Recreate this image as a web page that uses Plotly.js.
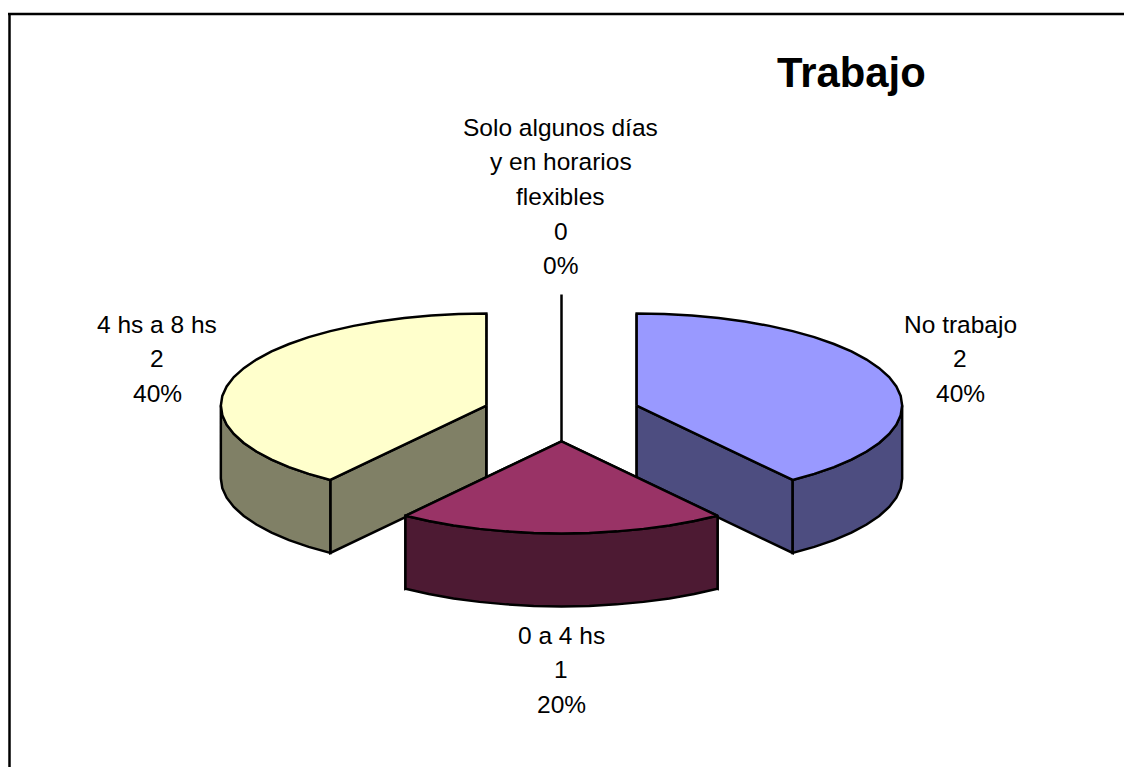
<!DOCTYPE html>
<html>
<head>
<meta charset="utf-8">
<script src="https://cdn.plot.ly/plotly-3.0.1.min.js"></script>
<style>html,body{margin:0;padding:0;background:#fff;overflow:hidden}</style>
</head>
<body>
<div id="chart" style="width:1124px;height:767px"></div>
<script>
// Data
const categories = ["No trabajo", "0 a 4 hs", "4 hs a 8 hs", "Solo algunos días y en horarios flexibles"];
const values = [2, 1, 2, 0];
const labelLines = [["No trabajo"], ["0 a 4 hs"], ["4 hs a 8 hs"], ["Solo algunos días", "y en horarios", "flexibles"]];
const topColors = ["#9999FF", "#993366", "#FFFFCC", "#CCFFFF"];
const sideColors = ["#4D4D80", "#4D1A33", "#808066", "#668080"];
const chartTitle = "Trabajo";

// Drawing geometry of the tilted, exploded pie
const CX = 561.5, CY = 414, RX = 265.5, RY = 92, DEPTH = 73, EXPLODE = 0.2976;
const labelAnchor = [[960, 324], [561, 635], [157, 324], [560.5, 127]];
const LINE_STEP = 34.7, FONT_SIZE = 24.5;
const FONT = "Liberation Sans, Arial, sans-serif";

const total = values.reduce((a, b) => a + b, 0);
const rad = d => d * Math.PI / 180;

function face(xs, ys, fill, name) {
  return {type: "scatter", mode: "lines", x: xs.concat([xs[0]]), y: ys.concat([ys[0]]),
    fill: "toself", fillcolor: fill, line: {color: "#000", width: 2.5, shape: "linear"},
    hoverinfo: "text", text: name, showlegend: false};
}

// Slice angle spans come from the values, clockwise from 12 o'clock
let start = 0;
const slices = values.map((v, i) => {
  const sweep = v / total * 360;
  const s = {i, a0: start, a1: start + sweep, mid: start + sweep / 2};
  start += sweep;
  s.ax = CX + EXPLODE * RX * Math.sin(rad(s.mid));
  s.ay = CY - EXPLODE * RY * Math.cos(rad(s.mid));
  return s;
});

function rim(s, a) { return [s.ax + RX * Math.sin(rad(a)), s.ay - RY * Math.cos(rad(a))]; }
function arc(s, a0, a1) {
  const n = Math.max(1, Math.round((a1 - a0) / 6)), pts = [];
  for (let k = 0; k <= n; k++) pts.push(rim(s, a0 + (a1 - a0) * k / n));
  return pts;
}

function sliceTraces(s) {
  const name = categories[s.i], out = [];
  const wall = a => {
    const p = rim(s, a);
    out.push(face([s.ax, p[0], p[0], s.ax], [s.ay, p[1], p[1] + DEPTH, s.ay + DEPTH], sideColors[s.i], name));
  };
  wall(s.a0);
  if (s.a1 !== s.a0) wall(s.a1);
  // Outer rim wall: only the part facing the viewer (90 to 270 degrees)
  const lo = Math.max(s.a0, 90), hi = Math.min(s.a1, 270);
  if (hi > lo) {
    const p = arc(s, lo, hi);
    const xs = p.map(q => q[0]), ys = p.map(q => q[1]);
    out.push(face(xs.concat(xs.slice().reverse()),
      ys.concat(ys.slice().reverse().map(y => y + DEPTH)), sideColors[s.i], name));
  }
  if (s.a1 > s.a0) {
    const p = arc(s, s.a0, s.a1);
    out.push(face([s.ax].concat(p.map(q => q[0])), [s.ay].concat(p.map(q => q[1])), topColors[s.i], name));
  }
  return out;
}

// Back to front: zero slice, then left, right, and the front slice
const order = [3, 2, 0, 1];
const traces = order.flatMap(i => sliceTraces(slices[i]));

const annotations = [];
values.forEach((v, i) => {
  const lines = labelLines[i].concat([String(v), Math.round(v / total * 100) + "%"]);
  lines.forEach((t, k) => annotations.push({
    xref: "x", yref: "y", x: labelAnchor[i][0], y: labelAnchor[i][1] + k * LINE_STEP,
    text: t, showarrow: false, xanchor: "center", yanchor: "middle",
    font: {family: FONT, size: FONT_SIZE, color: "#000"}
  }));
});
annotations.push({
  xref: "x", yref: "y", x: 851, y: 72, text: "<b>" + chartTitle + "</b>", showarrow: false,
  xanchor: "center", yanchor: "middle", font: {family: FONT, size: 41.8, color: "#000"}
});

const hidden = {visible: false, fixedrange: true};
const layout = {
  width: 1124, height: 767, margin: {l: 0, r: 0, t: 0, b: 0, pad: 0},
  paper_bgcolor: "#fff", plot_bgcolor: "#fff", showlegend: false,
  xaxis: Object.assign({range: [0, 1124]}, hidden),
  yaxis: Object.assign({range: [767, 0]}, hidden),
  annotations,
  shapes: [
    {type: "line", xref: "x", yref: "y", x0: 9.5, x1: 9.5, y0: 13, y1: 767, line: {color: "#000", width: 2.5}},
    {type: "line", xref: "x", yref: "y", x0: 8, x1: 1124, y0: 14, y1: 14, line: {color: "#000", width: 2.5}}
  ]
};
Plotly.newPlot("chart", traces, layout, {displayModeBar: false, staticPlot: true});
</script>
</body>
</html>
